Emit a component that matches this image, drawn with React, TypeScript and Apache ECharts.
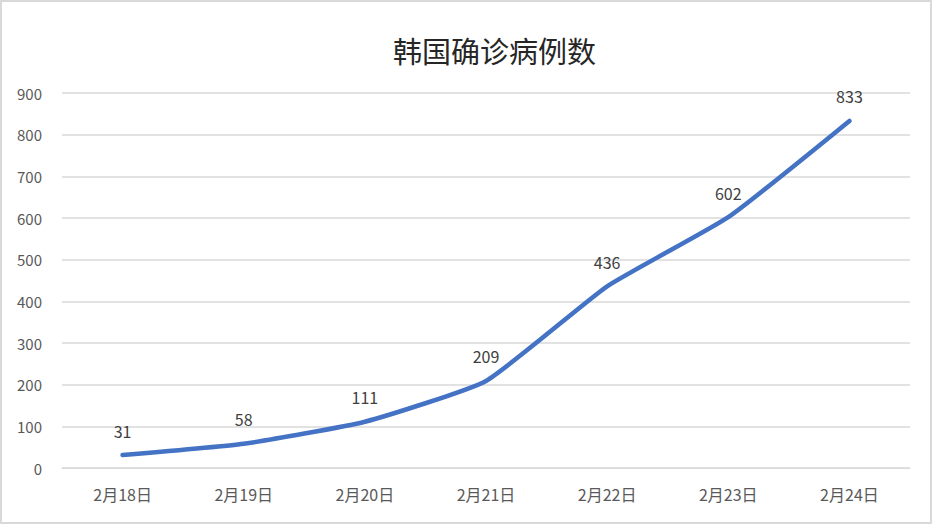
import * as echarts from 'echarts';
import { useEffect, useRef } from 'react';

const days = ['2月18日', '2月19日', '2月20日', '2月21日', '2月22日', '2月23日', '2月24日'];
const cases = [31, 58, 111, 209, 436, 602, 833];

const font = '"Noto Sans CJK SC", "Open Sans", sans-serif';

const App = () => {
  const chartRef = useRef<HTMLDivElement>(null);

  useEffect(() => {
    if (chartRef.current === null) return;
    const chart = echarts.init(chartRef.current, null, { renderer: 'svg' });

    chart.setOption({
      animation: false,
      backgroundColor: '#ffffff',
      title: {
        text: '韩国确诊病例数',
        left: 388,
        top: 30,
        textStyle: { fontFamily: font, fontSize: 29, fontWeight: 'normal', color: '#262626' },
      },
      graphic: [
        {
          type: 'rect',
          shape: { x: 1, y: 1, width: 930, height: 522 },
          style: { fill: 'none', stroke: '#d9d9d9', lineWidth: 2 },
          silent: true,
        },
      ],
      grid: { left: 62, right: 23, top: 93, bottom: 57 },
      xAxis: {
        type: 'category',
        data: days,
        boundaryGap: true,
        axisLine: { lineStyle: { color: '#d9d9d9' } },
        axisTick: { show: false },
        axisLabel: { color: '#595959', fontSize: 16, fontFamily: font, margin: 18 },
      },
      yAxis: {
        type: 'value',
        min: 0,
        max: 900,
        interval: 100,
        axisLine: { show: false },
        axisTick: { show: false },
        splitLine: { lineStyle: { color: '#d9d9d9', width: 1.5 } },
        axisLabel: { color: '#595959', fontSize: 15, fontFamily: font, margin: 20 },
      },
      series: [
        {
          type: 'line',
          data: cases,
          smooth: 0.15,
          symbol: 'circle',
          symbolSize: 1,
          showSymbol: true,
          itemStyle: { color: '#4472c4' },
          lineStyle: { color: '#4472c4', width: 4.5, cap: 'round' },
          label: {
            show: true,
            position: 'top',
            distance: 16,
            color: '#404040',
            fontSize: 16,
            fontFamily: font,
          },
        },
      ],
    });

    return () => {
      chart.dispose();
    };
  }, []);

  return (
    <div
      ref={chartRef}
      style={{ position: 'absolute', left: 0, top: 0, width: 933, height: 525 }}
    ></div>
  );
};

export default App;
